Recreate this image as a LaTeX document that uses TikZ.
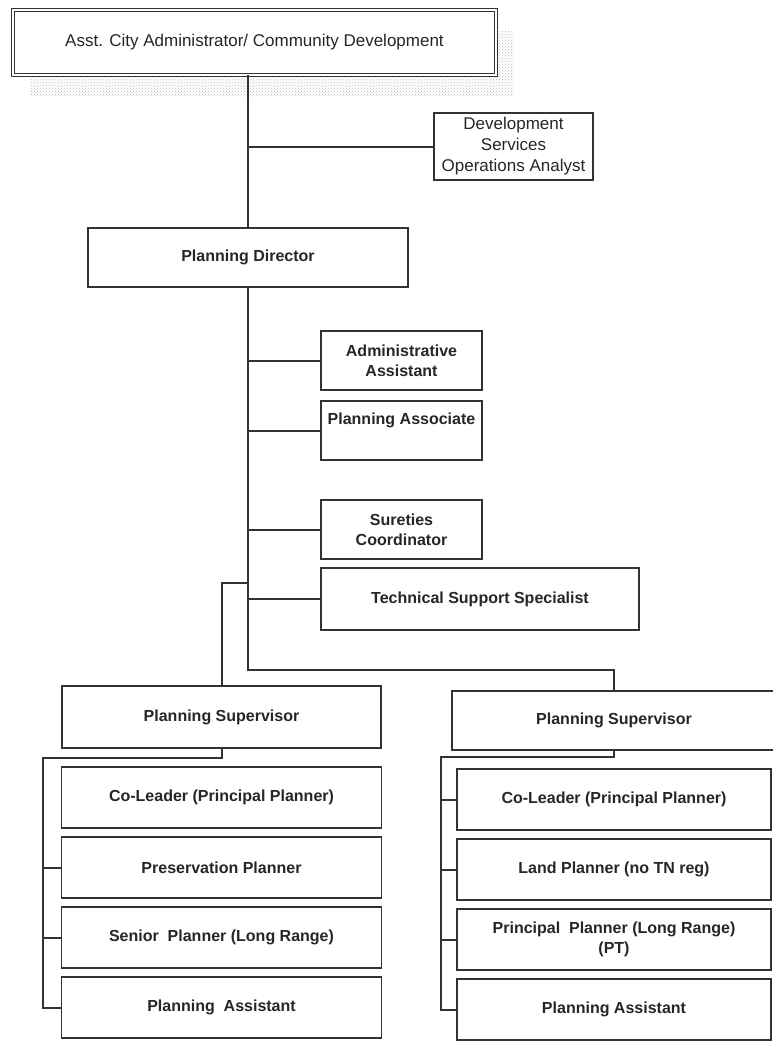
\documentclass[tikz,border=0pt]{standalone}
\usepackage{fontspec}
\setmainfont{Liberation Sans}
\usetikzlibrary{positioning, shadows, patterns}
\tikzset{
  post/.style={
    rectangle, draw=black!80, line width=1.6pt, fill=white,
    minimum width=161pt, minimum height=59pt,
    inner sep=2pt, outer sep=0pt,
    align=center, text=black!85,
    font=\fontsize{16}{20}\selectfont\bfseries
  },
  headpost/.style={post, line width=2.4pt},
  plainpost/.style={post, line width=1.2pt, font=\fontsize{17}{21}\selectfont},
  teampost/.style={post, minimum width=320pt, minimum height=61pt},
  link/.style={draw=black!80, line width=2pt}
}

\begin{document}
\begin{tikzpicture}[x=1pt, y=-1pt]
\useasboundingbox (0,0) rectangle (773,1041);

% Administration
\node[plainpost, double, line width=1pt, double distance=1.8pt,
      minimum width=483pt, minimum height=65pt,
      drop shadow={shadow xshift=17pt, shadow yshift=-21pt, fill=none,
                   pattern=crosshatch dots, pattern color=black!55}]
      (asst) at (254.5,42.5) {Asst. City Administrator/ Community Development};
\node[plainpost, minimum width=159pt, minimum height=67pt] (devops) at (513.5,146.5)
      {Development\\Services\\Operations Analyst};
\node[headpost, minimum width=320pt, minimum height=59pt] (pdir) at (248,257.5) {Planning Director};

% Staff column
\node[post] (admin) at (401.5,360.5) {Administrative\\Assistant};
\node[post, below=11pt of admin] (assoc) {Planning Associate\\[4pt]\mbox{}};
\node[post, below=40pt of assoc] (surety) {Sureties\\Coordinator};
\node[post, below=9pt of surety.south west, anchor=north west,
      minimum width=318pt, minimum height=62pt] (techs) {Technical Support Specialist};

% Supervisors
\node[headpost, minimum width=319pt, minimum height=62pt] (lsup) at (221.5,717) {Planning Supervisor};
\node[headpost, minimum width=324pt, minimum height=59pt] (rsup) at (614,720.5) {Planning Supervisor};

% Left team
\node[teampost, below=19pt of lsup] (lcolead) {Co-Leader (Principal Planner)};
\node[teampost, below=9pt of lcolead] (lpres) {Preservation Planner};
\node[teampost, below=9pt of lpres] (lsenior) {Senior\ \ Planner (Long Range)};
\node[teampost, below=9pt of lsenior] (lassist) {Planning\ \ Assistant};

% Right team
\node[teampost, minimum width=314pt, below=19pt of rsup] (rcolead) {Co-Leader (Principal Planner)};
\node[teampost, minimum width=314pt, below=9pt of rcolead] (rland) {Land Planner (no TN reg)};
\node[teampost, minimum width=314pt, below=9pt of rland] (rprin) {Principal\ \ Planner (Long Range)\\(PT)};
\node[teampost, minimum width=314pt, below=9pt of rprin] (rassist) {Planning Assistant};

% Reporting lines
\coordinate (lsplit) at (248,583);
\coordinate (mainend) at (248,670);
\coordinate (lbus) at (43,758);
\coordinate (rbus) at (441,757);

\draw[link] (asst.south -| pdir.north) -- (pdir.north);
\draw[link] (devops.west) -- (devops.west -| pdir.north);
\draw[link] (pdir.south) -- (mainend) -| (rsup.north);
\draw[link] (admin.west) -- (admin.west -| pdir.south);
\draw[link] (assoc.west) -- (assoc.west -| pdir.south);
\draw[link] (surety.west) -- (surety.west -| pdir.south);
\draw[link] (techs.west) -- (techs.west -| pdir.south);
\draw[link] (lsplit) -| (lsup.north);

\draw[link] (lsup.south) |- (lbus) |- (lassist.west);
\draw[link] (lpres.west) -- (lpres.west -| lbus);
\draw[link] (lsenior.west) -- (lsenior.west -| lbus);

\draw[link] (rsup.south) |- (rbus) |- (rassist.west);
\draw[link] (rcolead.west) -- (rcolead.west -| rbus);
\draw[link] (rland.west) -- (rland.west -| rbus);
\draw[link] (rprin.west) -- (rprin.west -| rbus);

\end{tikzpicture}
\end{document}
